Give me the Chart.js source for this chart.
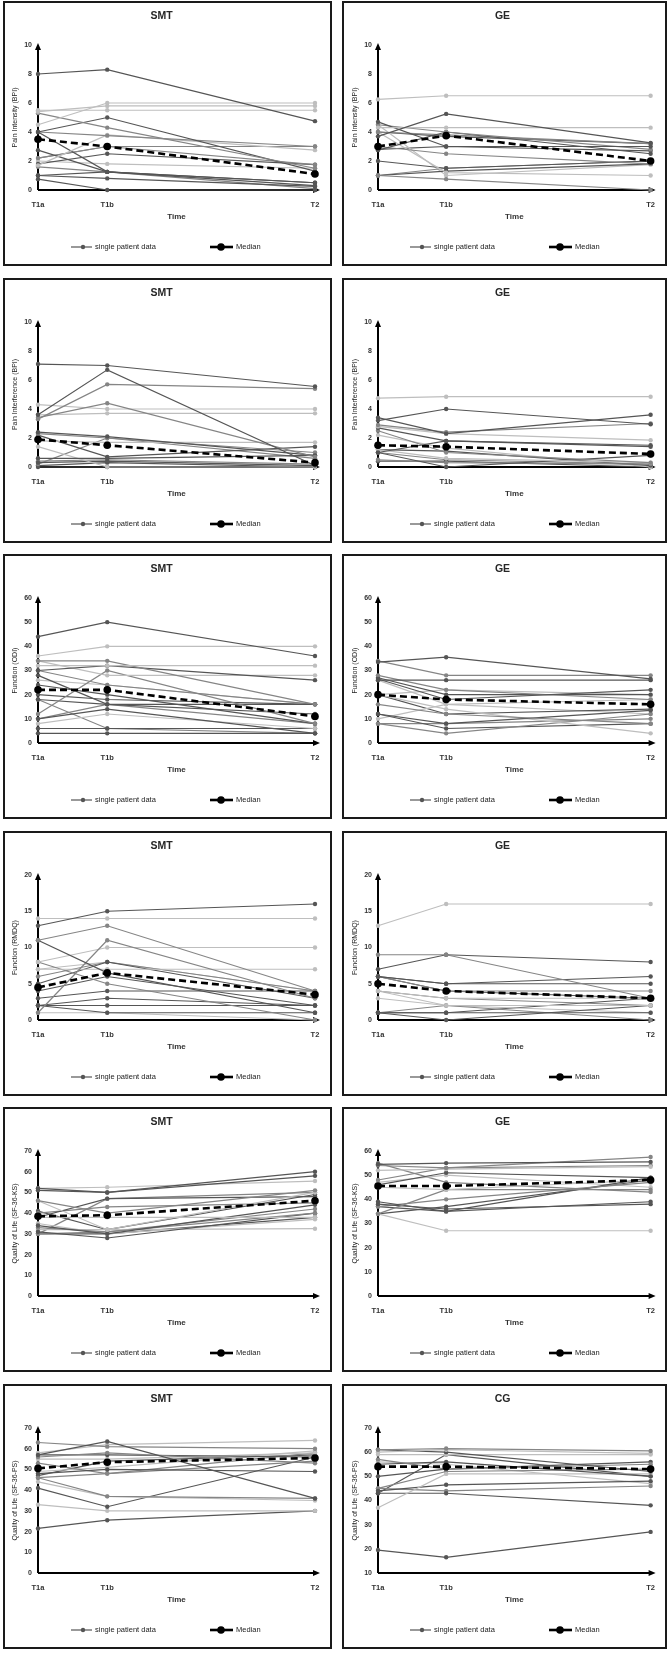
<!DOCTYPE html>
<html>
<head>
<meta charset="utf-8">
<script src="https://cdn.jsdelivr.net/npm/chart.js@4.4.1/dist/chart.umd.min.js"></script>
<style>
  body { margin: 0; background: #fff; width: 670px; height: 1654px; position: relative; overflow: hidden; }
  .panel { position: absolute; box-sizing: border-box; border: 2px solid #1a1a1a; background: #fff; }
  .panel canvas { display: block; }
</style>
</head>
<body>
<script>
// time points (T1a -> T1b is 1/4 of the way to T2)
const timeLabels = ["T1a", "T1b", "T2"];
const timePos = [0, 1, 4];

// pain intensity (BPI)
const smtPainIntensity = [
  [8.0, 8.3, 4.75], [5.5, 5.5, 5.5], [4.5, 6.0, 6.0], [5.4, 5.8, 5.8], [5.3, 4.3, 1.5],
  [4.0, 5.0, 1.3], [4.0, 3.75, 3.0], [1.7, 3.8, 2.75], [4.0, 1.25, 0.3], [2.75, 1.25, 0.5],
  [2.2, 3.0, 1.75], [1.8, 2.5, 1.75], [2.0, 1.8, 1.5], [1.0, 0.8, 0.25], [0.75, 0.0, 0.0],
  [1.0, 1.25, 0.5], [2.2, 3.0, 3.0], [1.6, 1.25, 0.1]
];
const smtPainIntensityMedian = [3.5, 3.0, 1.1];
const gePainIntensity = [
  [6.25, 6.5, 6.5], [3.7, 5.25, 3.25], [4.3, 4.3, 4.3], [4.7, 3.0, 3.0], [4.5, 4.0, 2.8],
  [2.75, 4.0, 2.5], [4.0, 3.8, 3.2], [3.0, 2.5, 1.8], [4.0, 1.2, 1.0], [2.0, 1.5, 2.0],
  [1.0, 0.75, 0.0], [1.0, 1.3, 1.8], [1.0, 1.5, 2.0], [4.5, 1.0, 1.75], [4.0, 3.7, 3.2],
  [2.8, 3.0, 2.7]
];
const gePainIntensityMedian = [3.0, 3.75, 2.0];

// pain interference (BPI)
const smtPainInterference = [
  [7.1, 7.0, 5.55], [3.6, 6.7, 0.1], [3.3, 5.7, 5.4], [3.4, 4.4, 0.7], [4.3, 4.0, 4.0],
  [3.6, 3.7, 3.7], [2.4, 2.1, 0.8], [2.3, 2.0, 1.0], [1.8, 1.7, 1.7], [2.2, 0.7, 1.4],
  [0.6, 0.6, 0.8], [1.4, 0.0, 0.0], [0.3, 0.4, 0.1], [0.2, 2.0, 0.6], [0.1, 0.3, 0.0],
  [0.0, 0.0, 0.0], [0.4, 0.5, 0.2]
];
const smtPainInterferenceMedian = [1.9, 1.5, 0.3];
const gePainInterference = [
  [4.75, 4.85, 4.85], [3.2, 4.0, 2.95], [3.4, 2.3, 3.6], [2.9, 2.4, 3.0], [2.8, 2.3, 1.85],
  [2.7, 1.8, 1.5], [2.5, 1.0, 0.3], [1.0, 1.8, 1.4], [1.2, 0.6, 0.3], [1.0, 0.0, 0.8],
  [0.5, 0.3, 0.2], [1.2, 1.1, 0.1], [2.2, 1.3, 0.0], [0.4, 0.4, 0.0], [1.0, 0.5, 0.2]
];
const gePainInterferenceMedian = [1.5, 1.4, 0.9];

// function (ODI)
const smtOdi = [
  [44, 50, 36], [36, 40, 40], [32, 32, 32], [34, 34, 16], [30, 32, 26], [34, 28, 28],
  [12, 30, 8], [28, 16, 16], [30, 24, 16], [26, 24, 16], [24, 20, 8], [18, 16, 12],
  [20, 18, 16], [10, 14, 4], [8, 12, 6], [10, 16, 8], [6, 6, 6], [4, 4, 4], [18, 6, 4]
];
const smtOdiMedian = [22, 22, 11];
const geOdi = [
  [33.5, 35.5, 26.5], [34, 28, 28], [26, 26, 26], [26.5, 18, 22], [28, 22, 18], [27, 20, 20],
  [20, 22, 20], [16, 12, 8], [12, 8, 13.5], [20, 14, 4], [8, 4, 12], [12, 6, 8],
  [10, 16, 18], [8, 8, 10], [20, 12, 14], [26, 16, 12]
];
const geOdiMedian = [20, 18, 16];

// function (RMDQ)
const smtRmdq = [
  [13, 15, 16], [14, 14, 14], [11, 13, 4], [11, 6.5, 1], [1, 11, 3], [8, 10, 10],
  [7, 7, 7], [8, 5, 0], [5, 8, 3], [6, 8, 4], [4, 6, 2], [3, 4, 4], [2, 3, 2],
  [2, 2, 2], [2, 1, 1], [1, 1, 0], [7, 8, 4]
];
const smtRmdqMedian = [4.5, 6.5, 3.5];
const geRmdq = [
  [13, 16, 16], [9, 9, 3], [7, 9, 8], [6, 5, 6], [6, 5, 5], [6, 4, 4], [4, 3, 3],
  [6, 4, 3], [3, 2, 2], [4, 3, 2], [1, 1, 1], [1, 0, 2], [1, 2, 0], [4, 2, 1], [1, 1, 3]
];
const geRmdqMedian = [5, 4, 3];

// quality of life (SF-36 KS)
const smtSfKs = [
  [52, 50, 60], [51, 50, 58], [52, 52.5, 55.5], [46, 40, 51], [46, 32, 50], [38, 47, 48],
  [40, 43, 45], [38, 38, 38], [34, 30, 44], [33, 31, 40], [31, 28, 40], [32, 32, 32.5],
  [30, 31, 42], [41, 32, 49], [35, 30, 37], [30, 47, 50], [30, 30, 38]
];
const smtSfKsMedian = [38.5, 39, 46];
const geSfKs = [
  [54.5, 55, 55.5], [54, 53, 57.5], [52, 52.5, 53.5], [48, 53, 54], [46, 51, 49], [45, 44, 48],
  [34, 44, 44], [34, 27, 27], [39, 35, 39], [38, 36, 38], [37, 40, 47], [37, 35, 49],
  [47, 50, 45], [55, 47, 43], [34, 37, 48]
];
const geSfKsMedian = [45.5, 45.5, 48];

// quality of life (SF-36 PS)
const smtSfPs = [
  [57, 63.5, 36], [63, 61, 60], [58, 62, 64], [56, 58, 53], [57, 57, 56], [55, 55, 58],
  [48, 50, 49], [46, 48, 58], [46, 37, 36], [44, 37, 35], [41, 32, 56], [33, 30, 30],
  [21.5, 25.5, 30], [53, 48, 54], [49, 51, 59], [47, 54, 57]
];
const smtSfPsMedian = [50.5, 53.5, 55.5];
const cgSfPs = [
  [61, 61.5, 60.5], [60, 61, 59.5], [61, 60, 52], [57, 53, 55], [55, 56, 50], [50, 53, 56],
  [37, 51, 51], [44, 46.5, 48], [43, 43, 38], [45, 44, 46], [19.5, 16.5, 27], [59, 59, 59],
  [45, 52, 53], [43, 59, 50], [56, 55, 47]
];
const cgSfPsMedian = [54, 54, 53];

// grey shade of every patient line: d = dark, m = mid, l = light
const shades = { d: "#555555", m: "#858585", l: "#bebebe" };

const panels = [
  { title: "SMT", yLabel: "Pain Intensity (BPI)", min: 0, max: 10, step: 2, rows: smtPainIntensity, median: smtPainIntensityMedian, tones: "dlllmdmlddmdldddmm" },
  { title: "GE", yLabel: "Pain Intensity (BPI)", min: 0, max: 10, step: 2, rows: gePainIntensity, median: gePainIntensityMedian, tones: "ldldmdmmldmdmldd" },
  { title: "SMT", yLabel: "Pain Interference (BPI)", min: 0, max: 10, step: 2, rows: smtPainInterference, median: smtPainInterferenceMedian, tones: "ddmmlldmlddldmddm" },
  { title: "GE", yLabel: "Pain Interference (BPI)", min: 0, max: 10, step: 2, rows: gePainInterference, median: gePainInterferenceMedian, tones: "lddmldmdldmdldm" },
  { title: "SMT", yLabel: "Function (ODI)", min: 0, max: 60, step: 10, rows: smtOdi, median: smtOdiMedian, tones: "dllmdlmdmlddddlmddm" },
  { title: "GE", yLabel: "Function (ODI)", min: 0, max: 60, step: 10, rows: geOdi, median: geOdiMedian, tones: "dmddmdlmdlmdlmdl" },
  { title: "SMT", yLabel: "Function (RMDQ)", min: 0, max: 20, step: 5, rows: smtRmdq, median: smtRmdqMedian, tones: "dlmdmllmdmdddddll" },
  { title: "GE", yLabel: "Function (RMDQ)", min: 0, max: 20, step: 5, rows: geRmdq, median: geRmdqMedian, tones: "lmdddmldlmddmld" },
  { title: "SMT", yLabel: "Quality of Life (SF-36-KS)", min: 0, max: 70, step: 10, rows: smtSfKs, median: smtSfKsMedian, tones: "ddlmldmldmdlmdlmd" },
  { title: "GE", yLabel: "Quality of Life (SF-36-KS)", min: 0, max: 60, step: 10, rows: geSfKs, median: geSfKsMedian, tones: "dmlmdlmlddmdlmd" },
  { title: "SMT", yLabel: "Quality of Life (SF-36-PS)", min: 0, max: 70, step: 10, rows: smtSfPs, median: smtSfPsMedian, tones: "dmlmdldmmldldmld" },
  { title: "CG", yLabel: "Quality of Life (SF-36-PS)", min: 10, max: 70, step: 10, rows: cgSfPs, median: cgSfPsMedian, tones: "mldmddlddmdlmdl" }
];

const FONT = "'Liberation Sans', Arial, sans-serif";

// black axes with arrow heads
const arrowAxes = {
  id: "arrowAxes",
  beforeDatasetsDraw(chart) {
    const { ctx, chartArea: a } = chart;
    ctx.save();
    ctx.strokeStyle = "#000";
    ctx.fillStyle = "#000";
    ctx.lineWidth = 2;
    ctx.beginPath();
    ctx.moveTo(a.left, a.bottom);
    ctx.lineTo(a.left, a.top + 3);
    ctx.moveTo(a.left, a.bottom);
    ctx.lineTo(a.right + 1, a.bottom);
    ctx.stroke();
    ctx.beginPath();
    ctx.moveTo(a.left, a.top - 2);
    ctx.lineTo(a.left - 3, a.top + 5);
    ctx.lineTo(a.left + 3, a.top + 5);
    ctx.closePath();
    ctx.moveTo(a.right + 5, a.bottom);
    ctx.lineTo(a.right - 2, a.bottom - 3);
    ctx.lineTo(a.right - 2, a.bottom + 3);
    ctx.closePath();
    ctx.fill();
    ctx.restore();
  }
};

// legend row: "single patient data" and "Median"
const bottomLegend = {
  id: "bottomLegend",
  afterDraw(chart) {
    const { ctx } = chart;
    const y = chart.height - 17;
    ctx.save();
    ctx.font = "7.5px " + FONT;
    ctx.textBaseline = "middle";
    ctx.strokeStyle = shades.d;
    ctx.lineWidth = 1.2;
    ctx.beginPath();
    ctx.moveTo(66, y); ctx.lineTo(87, y);
    ctx.stroke();
    ctx.fillStyle = shades.d;
    ctx.beginPath(); ctx.arc(78, y, 2.2, 0, Math.PI * 2); ctx.fill();
    ctx.fillStyle = "#222";
    ctx.fillText("single patient data", 90, y);
    ctx.strokeStyle = "#000";
    ctx.lineWidth = 2.6;
    ctx.beginPath();
    ctx.moveTo(205, y); ctx.lineTo(228, y);
    ctx.stroke();
    ctx.fillStyle = "#000";
    ctx.beginPath(); ctx.arc(216, y, 3.8, 0, Math.PI * 2); ctx.fill();
    ctx.fillStyle = "#222";
    ctx.fillText("Median", 231, y);
    ctx.restore();
  }
};

function toPoints(vals) {
  return vals.map((v, i) => ({ x: timePos[i], y: v }));
}

panels.forEach((p, idx) => {
  const col = idx % 2;
  const row = Math.floor(idx / 2);
  const boxW = col === 0 ? 329 : 325;
  const boxH = 265;
  const div = document.createElement("div");
  div.className = "panel";
  div.style.left = (col === 0 ? 3 : 342) + "px";
  div.style.top = Math.round(1 + row * 276.6) + "px";
  div.style.width = boxW + "px";
  div.style.height = boxH + "px";
  const canvas = document.createElement("canvas");
  canvas.width = boxW - 4;
  canvas.height = boxH - 4;
  div.appendChild(canvas);
  document.body.appendChild(div);

  const datasets = [{
    label: "Median",
    data: toPoints(p.median),
    borderColor: "#000",
    backgroundColor: "#000",
    borderWidth: 2.6,
    borderDash: [7, 4],
    pointRadius: 3.8,
    pointBorderWidth: 0,
    clip: false
  }];
  p.rows.forEach((r, i) => {
    const c = shades[p.tones[i]];
    datasets.push({
      label: "single patient data",
      data: toPoints(r),
      borderColor: c,
      backgroundColor: c,
      borderWidth: 1.2,
      pointRadius: 2.2,
      pointBorderWidth: 0,
      clip: false
    });
  });

  new Chart(canvas, {
    type: "line",
    data: { datasets },
    options: {
      responsive: false,
      animation: false,
      devicePixelRatio: 1,
      layout: { padding: { left: col === 0 ? 3 : 4, right: col === 0 ? 15 : 8, top: 0, bottom: 38 } },
      plugins: {
        legend: { display: false },
        tooltip: { enabled: false },
        title: {
          display: true,
          text: p.title,
          color: "#262626",
          font: { family: FONT, size: 10.5, weight: "bold" },
          padding: { top: 7, bottom: 22.4 }
        }
      },
      scales: {
        x: {
          type: "linear",
          min: timePos[0],
          max: timePos[timePos.length - 1],
          grid: { display: false, drawTicks: false },
          border: { display: false },
          afterBuildTicks: s => { s.ticks = timePos.map(v => ({ value: v })); },
          afterFit: s => { s.height = 36; },
          ticks: {
            padding: 10,
            maxRotation: 0,
            color: "#333",
            font: { family: FONT, size: 7.5, weight: "bold" },
            callback: v => timeLabels[timePos.indexOf(v)]
          },
          title: {
            display: true,
            text: "Time",
            color: "#333",
            font: { family: FONT, size: 8, weight: "bold" },
            padding: { top: 0, bottom: 4.2 }
          }
        },
        y: {
          min: p.min,
          max: p.max,
          grid: { display: false, drawTicks: false },
          border: { display: false },
          afterFit: s => { s.width = 30; },
          ticks: {
            stepSize: p.step,
            padding: 6,
            color: "#333",
            font: { family: FONT, size: 7, weight: "bold" }
          },
          title: {
            display: true,
            text: p.yLabel,
            color: "#222",
            font: { family: FONT, size: 7 },
            padding: { top: 3, bottom: 0 }
          }
        }
      }
    },
    plugins: [arrowAxes, bottomLegend]
  });
});
</script>
</body>
</html>
